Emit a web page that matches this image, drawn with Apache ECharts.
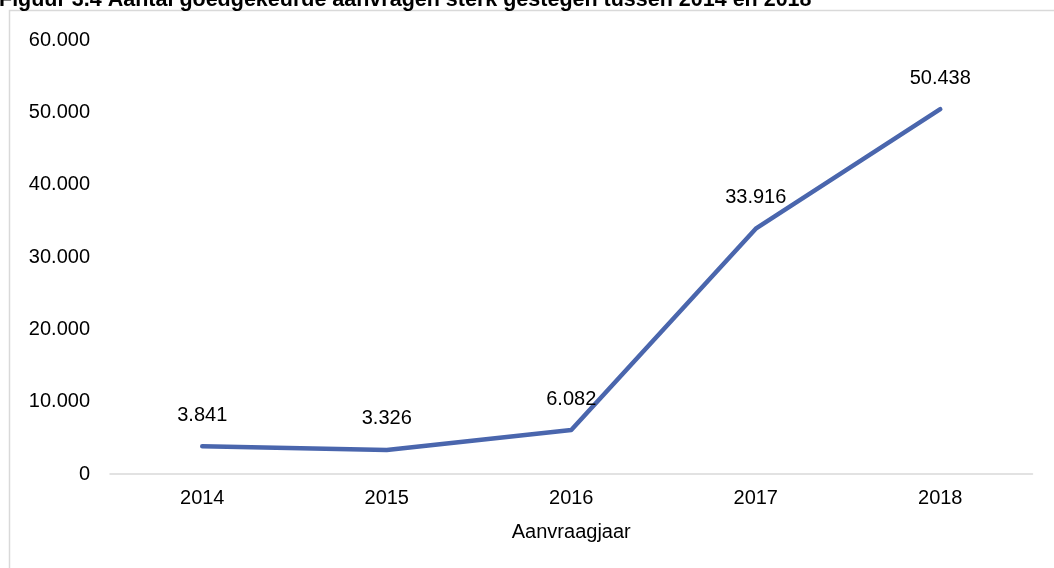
<!DOCTYPE html>
<html><head><meta charset="utf-8">
<script src="https://cdn.jsdelivr.net/npm/echarts@6/dist/echarts.min.js"></script>
<style>html,body{margin:0;padding:0;background:#fff}#c{width:1054px;height:568px}</style>
</head><body><div id="c"></div>
<script>
const categories = ['2014','2015','2016','2017','2018'];
const values = [3841, 3326, 6082, 33916, 50438];
const yTicks = [0, 10000, 20000, 30000, 40000, 50000, 60000];
const titleText = 'Figuur 3.4 Aantal goedgekeurde aanvragen sterk gestegen tussen 2014 en 2018';
const fmt = v => v === 0 ? '0' : String(v).replace(/\B(?=(\d{3})+(?!\d))/g, '.');
const FF = 'Liberation Sans, Arial, sans-serif';
const chart = echarts.init(document.getElementById('c'));
chart.setOption({
  animation: false,
  graphic: [{type:'rect', shape:{x:9.5,y:10.5,width:1100,height:600}, style:{fill:'none', stroke:'#d9d9d9', lineWidth:1.5}, z:-1}],
  title: {text: titleText, left: -1, top: -11, padding:0, textStyle:{fontFamily:FF, fontWeight:'bold', fontSize:21.5, lineHeight:21.5, color:'#000'}},
  grid: {left:110, right:21.5, top:40, bottom:94, containLabel:false},
  xAxis: {type:'category', data: categories, boundaryGap:true,
    axisLine:{lineStyle:{color:'#d9d9d9', width:1.5}}, axisTick:{show:false},
    axisLabel:{color:'#000', fontSize:20, fontFamily:FF, margin:14},
    name:'Aanvraagjaar', nameLocation:'middle', nameGap:48,
    nameTextStyle:{color:'#000', fontSize:20, fontFamily:FF}},
  yAxis: {type:'value', min:0, max:60000, interval:10000,
    splitLine:{show:false}, axisLine:{show:false}, axisTick:{show:false},
    axisLabel:{color:'#000', fontSize:20, fontFamily:FF, margin:20, formatter: v => yTicks.includes(v) ? fmt(v) : ''}},
  series: [{type:'line', data: values, symbol:'circle', symbolSize:2, showSymbol:true,
    itemStyle:{color:'#4a66ad'},
    lineStyle:{color:'#4a66ad', width:4.5, cap:'round', join:'round'},
    labelLayout:{hideOverlap:false},
    label:{show:true, position:'top', distance:20, color:'#000', fontSize:20, fontFamily:FF, formatter: p => fmt(p.value)}}]
});
</script></body></html>
